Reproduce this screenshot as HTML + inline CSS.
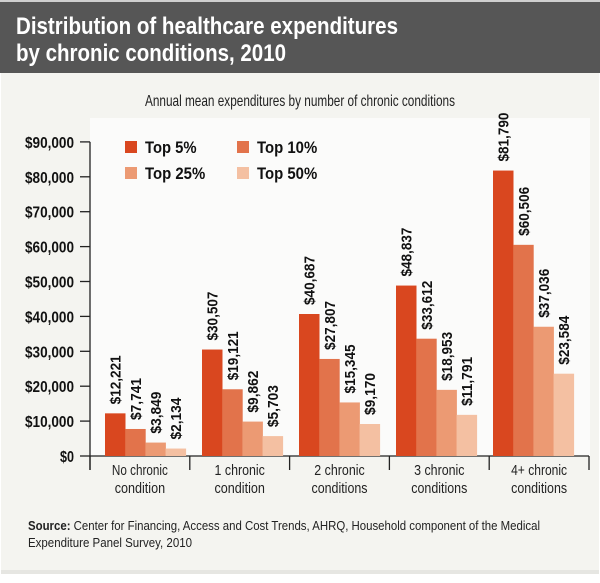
<!DOCTYPE html>
<html><head><meta charset="utf-8">
<style>
html,body{margin:0;padding:0;background:#fff;}
svg{display:block;font-family:"Liberation Sans",sans-serif;}
</style></head>
<body>
<svg id="chart" width="600" height="583" viewBox="0 0 600 583">
  <rect x="0" y="0" width="600" height="583" fill="#ffffff"/>
  <rect x="0" y="0" width="600" height="2" fill="#cfcfcf"/>
  <rect x="0" y="2" width="600" height="71" fill="#565656"/>
  <rect x="1" y="73" width="598" height="497" fill="#f4f4f0"/>
  <rect x="1" y="570" width="598" height="4" fill="#e6e6e2"/>
  <rect x="90" y="118" width="500" height="338" fill="#fbfbfa"/>
  <text x="16" y="34" fill="#ffffff" font-size="24" font-weight="bold" textLength="382" lengthAdjust="spacingAndGlyphs">Distribution of healthcare expenditures</text>
  <text x="16" y="61" fill="#ffffff" font-size="24" font-weight="bold" textLength="270" lengthAdjust="spacingAndGlyphs">by chronic conditions, 2010</text>
  <text x="145" y="106" fill="#222" font-size="16" textLength="310" lengthAdjust="spacingAndGlyphs">Annual mean expenditures by number of chronic conditions</text>
  <g id="yaxis"></g>
  <g id="xaxis"></g>
  <g id="bars"></g>
  <g id="legend"></g>
  <text x="28" y="530" fill="#222" font-size="13" textLength="512" lengthAdjust="spacingAndGlyphs"><tspan font-weight="bold">Source:</tspan> Center for Financing, Access and Cost Trends, AHRQ, Household component of the Medical</text>
  <text x="28" y="547" fill="#222" font-size="13" textLength="164" lengthAdjust="spacingAndGlyphs">Expenditure Panel Survey, 2010</text>
</svg>
<script>
const categories = [["No chronic","condition"],["1 chronic","condition"],["2 chronic","conditions"],["3 chronic","conditions"],["4+ chronic","conditions"]];
const seriesNames = ["Top 5%","Top 10%","Top 25%","Top 50%"];
const top5 = [12221, 30507, 40687, 48837, 81790];
const top10 = [7741, 19121, 27807, 33612, 60506];
const top25 = [3849, 9862, 15345, 18953, 37036];
const top50 = [2134, 5703, 9170, 11791, 23584];
const yTicks = [0,10000,20000,30000,40000,50000,60000,70000,80000,90000];
const yTickLabels = ["$0","$10,000","$20,000","$30,000","$40,000","$50,000","$60,000","$70,000","$80,000","$90,000"];

const NS = "http://www.w3.org/2000/svg";
const colors = ["#d9471f","#e2734b","#ec9a73","#f4c0a2"];
const series = [top5, top10, top25, top50];
const y0 = 456, pxPer = 34.9/10000;
function yScale(v){ return y0 - v*pxPer; }
const axisX = 90, groupW = 97, barW = 20.2, firstBar = 105;
function groupStart(i){ return firstBar + i*groupW; }
function sepX(i){ return axisX + i*groupW*(499/485); }
function fmt(v){ return "$" + v.toLocaleString("en-US"); }
function mk(tag, attrs, parent){ const e=document.createElementNS(NS,tag); for(const k in attrs) e.setAttribute(k,attrs[k]); parent.appendChild(e); return e; }

const yaxis = document.getElementById("yaxis");
const l = mk("line",{x1:axisX,y1:yScale(90000),x2:axisX,y2:y0+14,stroke:"#222","stroke-width":1.3},yaxis);


yTicks.forEach((t,i)=>{
  const tk = mk("line",{x1:axisX-10,y1:yScale(t),x2:axisX,y2:yScale(t),stroke:"#222","stroke-width":1.3},yaxis);
  
  
  const lab = yTickLabels[i];
  const tx = mk("text",{x:74,y:yScale(t)+6,"text-anchor":"end","font-size":16,"font-weight":"bold",fill:"#111",textLength:lab.length*7,lengthAdjust:"spacingAndGlyphs"},yaxis);
  tx.textContent = lab;
  
  
});

const xaxis = document.getElementById("xaxis");
const bl = mk("line",{x1:axisX,y1:y0,x2:sepX(5),y2:y0,stroke:"#222","stroke-width":1.3},xaxis);


for(let i=0;i<=categories.length;i++){
  const s = mk("line",{x1:sepX(i),y1:y0,x2:sepX(i),y2:y0+14,stroke:"#222","stroke-width":1.3},xaxis);
  
  
}
categories.forEach((c,i)=>{
  const cx = (sepX(i)+sepX(i+1))/2;
  c.forEach((line,j)=>{
    const t = mk("text",{x:cx,y:475+j*18,"text-anchor":"middle","font-size":15,fill:"#222",textLength:line.length*5.6,lengthAdjust:"spacingAndGlyphs"},xaxis);
    t.textContent = line;
    
    
  });
});

const bars = document.getElementById("bars");
series.forEach((vals,s)=>{
  vals.forEach((v,i)=>{
    const x = groupStart(i)+s*barW;
    const r = mk("rect",{x:x,y:yScale(v),width:barW+0.3,height:y0-yScale(v),fill:colors[s]},bars);
    
    
    const lab = fmt(v);
    const cx = x+barW/2+5.5, ty = yScale(v)-9;
    const t = mk("text",{x:0,y:0,"font-size":15,"font-weight":"bold",fill:"#111",textLength:lab.length*7,lengthAdjust:"spacingAndGlyphs",transform:"translate("+cx+","+ty+") rotate(-90)"},bars);
    t.textContent = lab;
    
    
  });
});

const legend = document.getElementById("legend");
const legPos = [[125,141],[237,141],[125,167],[237,167]];
seriesNames.forEach((n,i)=>{
  const [lx,ly] = legPos[i];
  const sq = mk("rect",{x:lx,y:ly,width:12,height:12,fill:colors[i]},legend);
  
  
  const t = mk("text",{x:lx+20,y:ly+12,"font-size":17,"font-weight":"bold",fill:"#111",textLength:n.length*8.6,lengthAdjust:"spacingAndGlyphs"},legend);
  t.textContent = n;
  
  
});
</script>
</body></html>
